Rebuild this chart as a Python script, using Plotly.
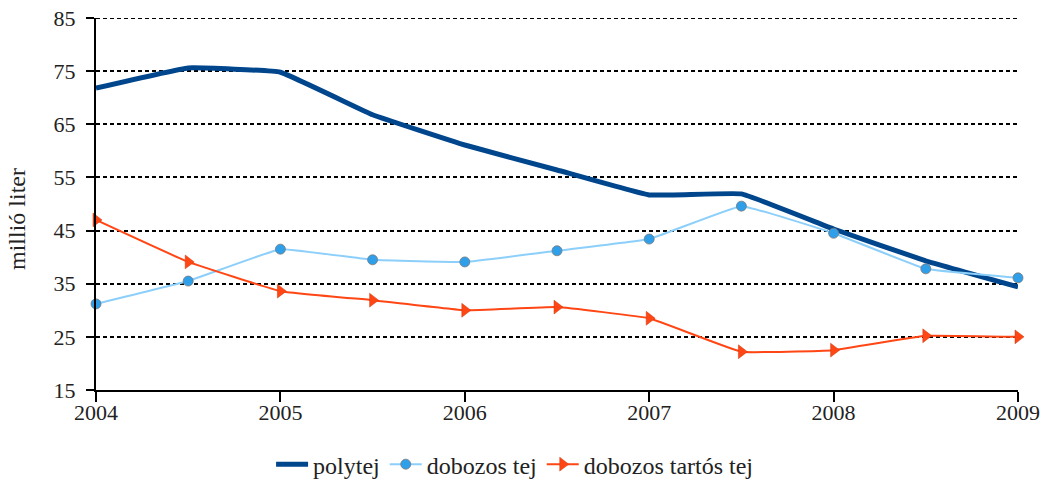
import plotly.graph_objects as go

x_vals = [2004, 2004.5, 2005, 2005.5, 2006, 2006.5, 2007, 2007.5, 2008, 2008.5, 2009]
polytej = [71.8, 75.6, 74.8, 66.8, 61.1, 56.4, 51.7, 51.9, 45.3, 39.3, 34.4]
dobozos_tej = [31.2, 35.5, 41.5, 39.5, 39.1, 41.2, 43.4, 49.6, 44.5, 37.8, 36.1]
dobozos_tartos_tej = [47.0, 39.1, 33.6, 31.9, 30.0, 30.6, 28.5, 22.2, 22.5, 25.2, 25.0]
y_ticks = [15, 25, 35, 45, 55, 65, 75, 85]
x_ticks = [2004, 2005, 2006, 2007, 2008, 2009]
y_title = "millió liter"

font_family = "Liberation Serif"

fig = go.Figure()
fig.add_trace(go.Scatter(
    x=x_vals, y=polytej, name="polytej", mode="lines",
    line=dict(color="#00468C", width=5, shape="spline", smoothing=0.25),
    cliponaxis=False,
))
fig.add_trace(go.Scatter(
    x=x_vals, y=dobozos_tej, name="dobozos tej", mode="lines+markers",
    line=dict(color="#8CCFFA", width=2, shape="spline", smoothing=0.25),
    marker=dict(symbol="circle", size=10, color="#2F9FEA",
                line=dict(color="#7A7A7A", width=0.8)),
    cliponaxis=False,
))
fig.add_trace(go.Scatter(
    x=x_vals, y=dobozos_tartos_tej, name="dobozos tartós tej", mode="lines+markers",
    line=dict(color="#FF4614", width=2, shape="spline", smoothing=0.25),
    marker=dict(symbol="triangle-right", size=12, color="#FF4614",
                line=dict(color="#C83A10", width=0.5)),
    cliponaxis=False,
))

# top gridline (Plotly drops the gridline lying on the plot edge)
fig.add_shape(type="line", xref="paper", x0=0, x1=1, yref="y",
              y0=y_ticks[-1], y1=y_ticks[-1],
              line=dict(color="black", width=2, dash="4px,3px"), layer="below")

fig.add_annotation(text=y_title, textangle=-90, xref="paper", yref="paper",
                   x=0, y=0.5, xanchor="center", yanchor="middle",
                   xshift=-79, yshift=-15, showarrow=False,
                   font=dict(size=24, family=font_family, color="#222222"))

fig.update_layout(
    width=1050, height=487,
    margin=dict(l=96, r=32, t=18, b=97, autoexpand=False),
    paper_bgcolor="white", plot_bgcolor="white",
    font=dict(family=font_family, size=21, color="#222222"),
    showlegend=True,
    legend=dict(orientation="h", x=0.454, xanchor="center", y=-0.14, yanchor="top",
                font=dict(size=24, family=font_family), itemwidth=32,
                tracegroupgap=0),
    xaxis=dict(
        range=[2004, 2009], tickvals=x_ticks, ticktext=[str(v) for v in x_ticks],
        showgrid=False, zeroline=False, showline=True, linecolor="black", linewidth=2,
        ticks="outside", ticklen=10, tickwidth=2, tickcolor="black", automargin=False,
        ticklabelstandoff=-8, ticklabeloverflow="allow",
        tickfont=dict(size=22, family=font_family, color="#222222"),
    ),
    yaxis=dict(
        range=[15, 85], tickvals=y_ticks, ticktext=[str(v) for v in y_ticks],
        showgrid=True, gridcolor="black", gridwidth=2, griddash="4px,3px",
        zeroline=False, showline=True, linecolor="black", linewidth=2,
        ticks="outside", ticklen=8, tickwidth=2, tickcolor="black", automargin=False,
        ticklabelstandoff=6, ticklabeloverflow="allow",
        tickfont=dict(size=22, family=font_family, color="#222222"),
    ),
)

fig.write_html("out.html", config={"displayModeBar": False},
               post_script="document.body.style.margin='0px';")
